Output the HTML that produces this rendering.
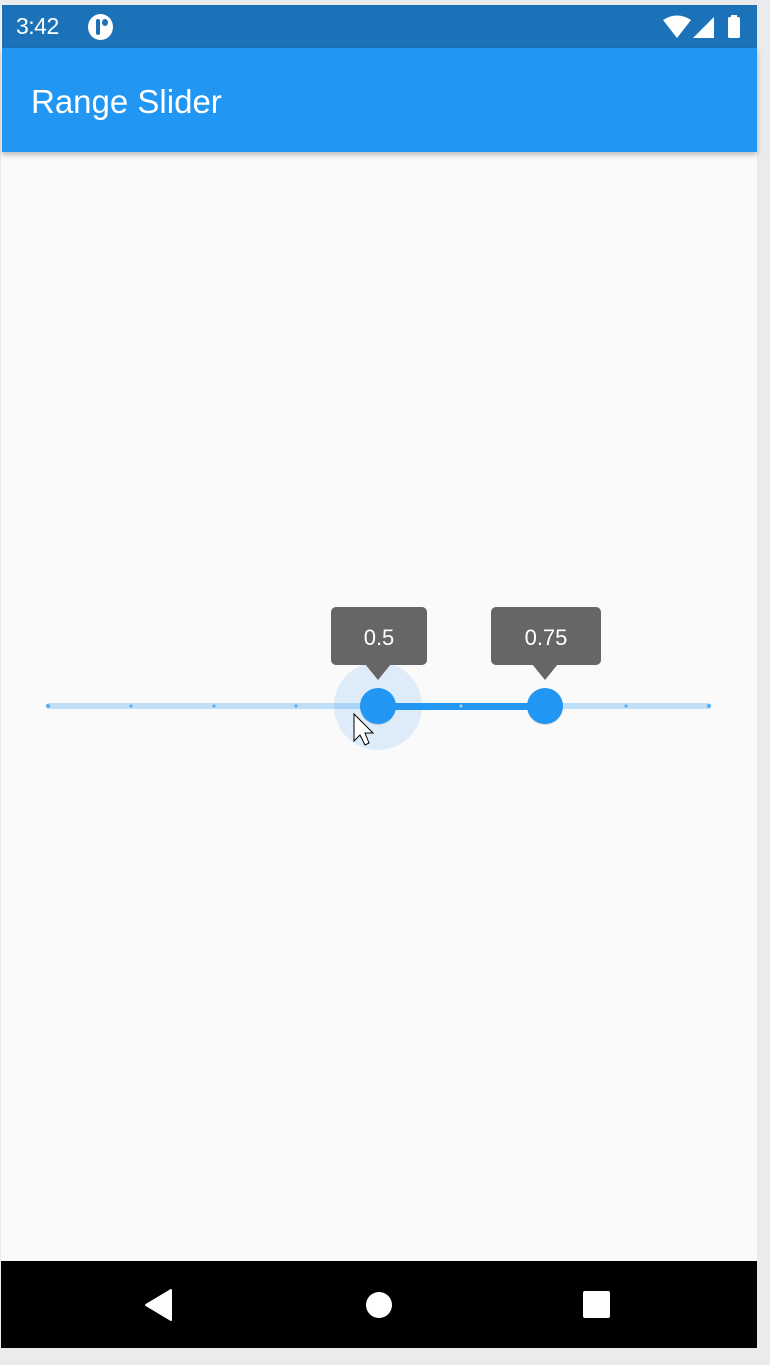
<!DOCTYPE html>
<html><head><style>
*{margin:0;padding:0;box-sizing:border-box}
body{width:770px;height:1365px;background:#ebebed;position:relative;overflow:hidden;font-family:"Liberation Sans",sans-serif}
.abs{position:absolute}
</style></head><body>
<div class="abs" style="left:1px;top:5px;width:756px;height:1343px;background:#fafafa"></div>
<div class="abs" style="left:2px;top:5px;width:755px;height:43px;background:#1b72b8"></div>
<div class="abs" style="left:16px;top:13px;color:#fff;font-size:23px;letter-spacing:-0.5px">3:42</div>
<div class="abs" style="left:88px;top:14px;width:25px;height:26px;border-radius:50%;background:#fff"></div>
<div class="abs" style="left:96px;top:19px;width:4px;height:16px;background:#1b72b8;border-radius:2px"></div>
<div class="abs" style="left:102px;top:19px;width:6px;height:7px;background:#1b72b8;border-radius:50%"></div>
<svg class="abs" style="left:660px;top:14px" width="90" height="26">
<path d="M3 6 Q17 -3 31 6 L17 24 Z" fill="#fff"/>
<path d="M54 3 L54 24 L33 24 Z" fill="#fff"/>
<rect x="68" y="3" width="12" height="21" rx="1.5" fill="#fff"/><rect x="71" y="1" width="6" height="3" fill="#fff"/>
</svg>
<div class="abs" style="left:2px;top:48px;width:755px;height:104px;background:#2196f3;box-shadow:0 3px 5px rgba(0,0,0,0.25)"></div>
<div class="abs" style="left:31px;top:83px;color:#fff;font-size:33px">Range Slider</div>
<svg class="abs" style="left:0;top:590px" width="770" height="180">
<circle cx="378" cy="116" r="44" fill="#2196f3" fill-opacity="0.13"/>
<rect x="46" y="113" width="665" height="6" rx="3" fill="#2196f3" fill-opacity="0.27"/>
<rect x="378" y="113" width="167" height="7" fill="#2196f3"/>
<g fill="#5aaef5">
<circle cx="48" cy="116" r="2"/><circle cx="131" cy="116" r="1.6"/><circle cx="214" cy="116" r="1.6"/><circle cx="296" cy="116" r="1.6"/><circle cx="626" cy="116" r="1.6"/><circle cx="709" cy="116" r="2"/>
</g>
<circle cx="461" cy="116" r="1.6" fill="#9fd0fa"/>
<circle cx="378" cy="117" r="18" fill="#000" fill-opacity="0.15"/>
<circle cx="378" cy="116" r="18" fill="#2196f3"/>
<circle cx="545" cy="117" r="18" fill="#000" fill-opacity="0.15"/>
<circle cx="545" cy="116" r="18" fill="#2196f3"/>
<rect x="331" y="17" width="96" height="58" rx="5" fill="#666"/>
<path d="M365 74 L378 90 L391 74 Z" fill="#666"/>
<rect x="491" y="17" width="110" height="58" rx="5" fill="#666"/>
<path d="M532 74 L545 90 L558 74 Z" fill="#666"/>
<text x="379" y="55" fill="#fff" font-size="22" text-anchor="middle" font-family="Liberation Sans">0.5</text>
<text x="546" y="55" fill="#fff" font-size="22" text-anchor="middle" font-family="Liberation Sans">0.75</text>
<path d="M354 124 L354 151 L360 145 L365 155 L369 153 L365 143 L373 143 Z" fill="#fff" stroke="#000" stroke-width="1"/>
</svg>
<div class="abs" style="left:1px;top:1261px;width:756px;height:87px;background:#000"></div>
<svg class="abs" style="left:0;top:1261px" width="770" height="87">
<path d="M171 29 L171 59 L146 44 Z" fill="#fff" stroke="#fff" stroke-linejoin="round" stroke-width="2"/>
<circle cx="379" cy="44" r="13" fill="#fff"/>
<rect x="583" y="30" width="27" height="27" rx="2" fill="#fff"/>
</svg>
</body></html>
